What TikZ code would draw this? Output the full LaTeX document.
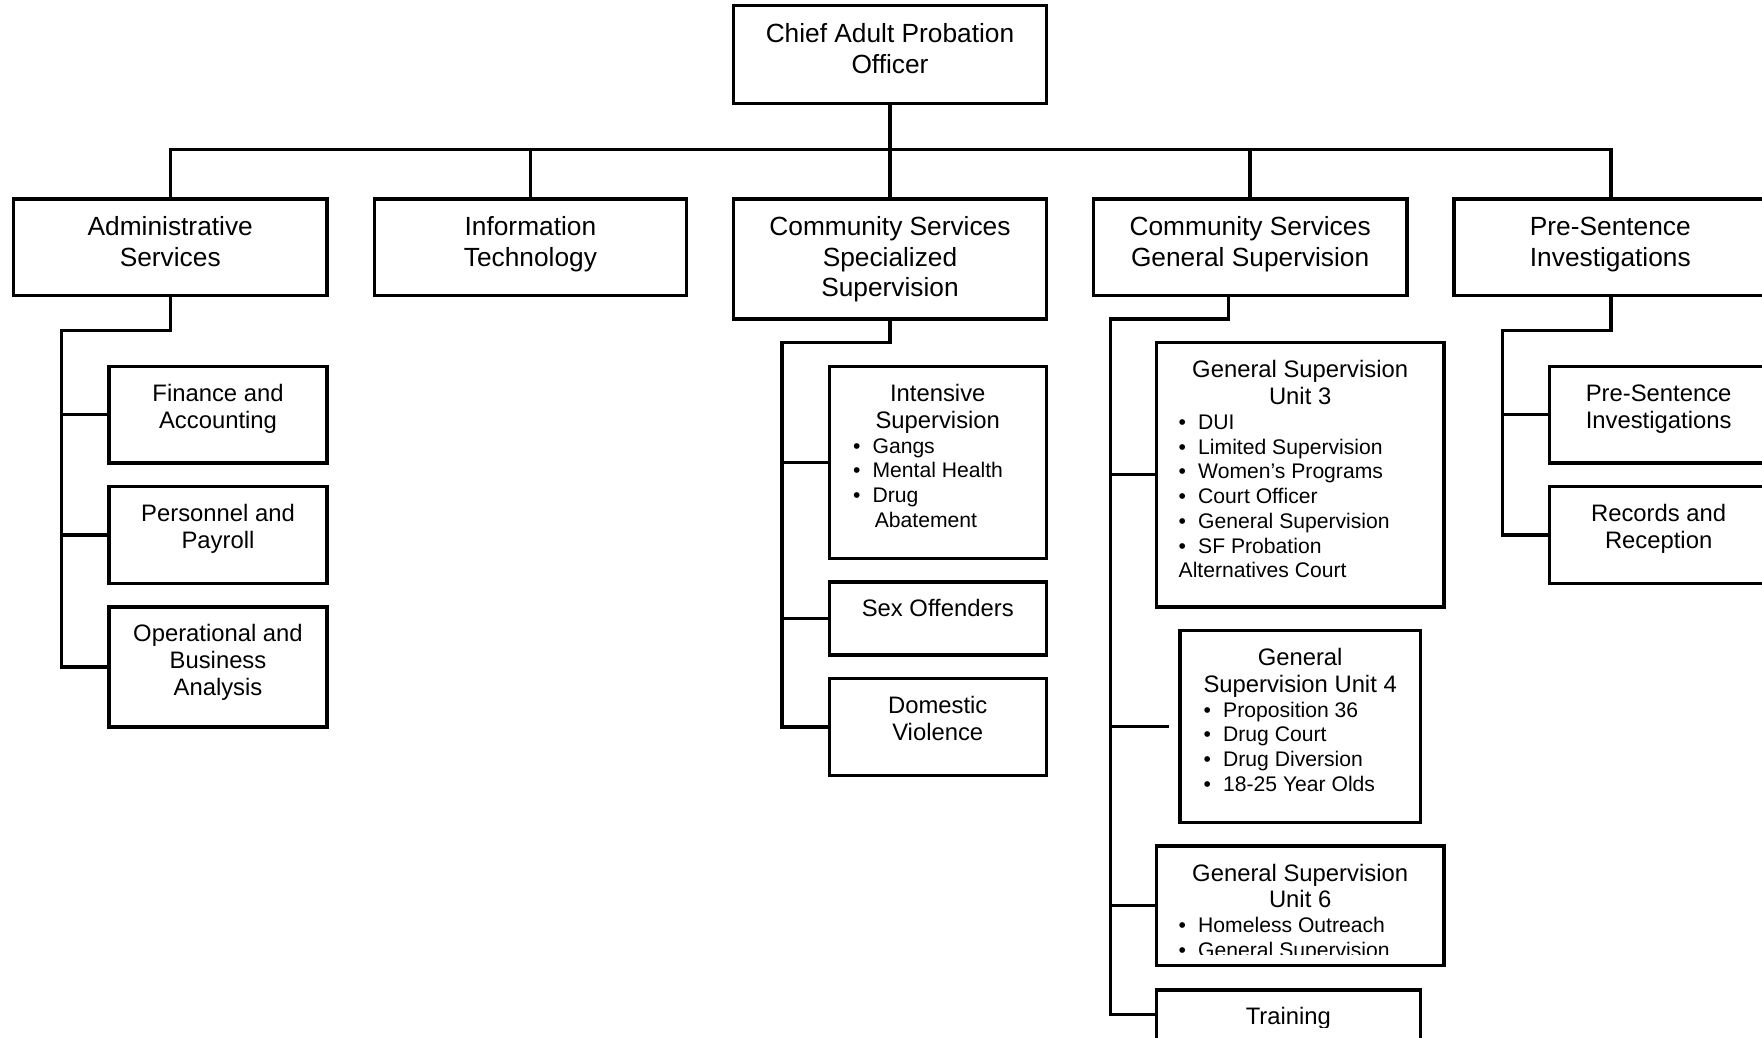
\documentclass[tikz,border=0pt]{standalone}
\usepackage{fontspec}
\setmainfont{Liberation Sans}
\usetikzlibrary{fit}
\newcommand{\bli}[1]{\makebox[8.7pt][l]{•}#1}
\newcommand{\ctab}[1]{\begin{tabular}[t]{@{}c@{}}#1\end{tabular}}
\newcommand{\ltab}[1]{\begin{tabular}[t]{@{}l@{}}#1\end{tabular}}
\begin{document}
\begin{tikzpicture}[x=0.5pt,y=-0.5pt,
 box/.style={draw, line width=1.5pt, inner sep=0pt},
 tA/.style={inner sep=0pt, anchor=base, font=\fontsize{11.7}{13.5}\selectfont},
 tB/.style={inner sep=0pt, anchor=base, font=\fontsize{10.6}{12}\selectfont},
 tL/.style={inner sep=0pt, anchor=base west, font=\fontsize{9.4}{11}\selectfont},
 ln/.style={line width=1.5pt}]
\clip (0,0) rectangle (1568,923);

% top
\node[box, fit={(653,5) (931,92)}] (chief) {};
\node[tA] (chieft) at (792,38) {\ctab{Chief Adult Probation\\Officer}};

% level 2
\node[box, fit={(12,177) (291,263)}] (adm) {};
\node[tA] (admt) at (151.5,210) {\ctab{Administrative\\Services}};
\node[box, fit={(333,177) (611,263)}] (it) {};
\node[tA] (itt) at (472,210) {\ctab{Information\\Technology}};
\node[box, fit={(653,177) (931,284)}] (csss) {};
\node[tA] (cssst) at (792,210) {\ctab{Community Services\\Specialized\\Supervision}};
\node[box, fit={(973,177) (1252,263)}] (csgs) {};
\node[tA] (csgst) at (1112.5,210) {\ctab{Community Services\\General Supervision}};
\node[box, fit={(1294,177) (1573,263)}] (psi) {};
\node[tA] (psit) at (1433,210) {\ctab{Pre-Sentence\\Investigations}};

\coordinate (bus) at (792,133);
\draw[ln] (chief.south) -- (bus);
\draw[ln] (adm.north) -- (adm.north |- bus) -- (psi.north |- bus) -- (psi.north);
\draw[ln] (it.north) -- (it.north |- bus);
\draw[ln] (csss.north) -- (csss.north |- bus);
\draw[ln] (csgs.north) -- (csgs.north |- bus);

% administrative children
\node[box, fit={(97,326) (291,412)}] (fin) {};
\node[tB] (fint) at (194,357) {\ctab{Finance and\\Accounting}};
\node[box, fit={(97,433) (291,519)}] (per) {};
\node[tB] (pert) at (194,464) {\ctab{Personnel and\\Payroll}};
\node[box, fit={(97,540) (291,647)}] (op) {};
\node[tB] (opt) at (194,571) {\ctab{Operational and\\Business\\Analysis}};
\coordinate (admk) at (55,294);
\draw[ln] (adm.south) |- (admk) |- (op.west);
\draw[ln] (admk |- fin.west) -- (fin.west);
\draw[ln] (admk |- per.west) -- (per.west);

% specialized supervision children
\node[box, fit={(738,326) (931,497)}] (ins) {};
\node[tB] (inst) at (834.5,357) {\ctab{Intensive\\Supervision}};
\node[tL] (insl) at (758.7,403.2) {\ltab{\bli{Gangs}\\\bli{Mental Health}\\\bli{Drug}\\\hspace{9.7pt}Abatement}};
\node[box, fit={(738,518) (931,583)}] (sex) {};
\node[tB] (sext) at (834.5,549) {\ctab{Sex Offenders}};
\node[box, fit={(738,604) (931,690)}] (dom) {};
\node[tB] (domt) at (834.5,635) {\ctab{Domestic\\Violence}};
\coordinate (cssk) at (696,305);
\draw[ln] (csss.south) |- (cssk) |- (dom.west);
\draw[ln] (cssk |- ins.west) -- (ins.west);
\draw[ln] (cssk |- sex.west) -- (sex.west);

% general supervision children
\node[box, fit={(1029,305) (1285,540)}] (gs3) {};
\node[tB] (gs3t) at (1157,336) {\ctab{General Supervision\\Unit 3}};
\node[tL] (gs3l) at (1048.5,382.2) {\ltab{\bli{DUI}\\\bli{Limited Supervision}\\\bli{Women’s Programs}\\\bli{Court Officer}\\\bli{General Supervision}\\\bli{SF Probation}\\Alternatives Court}};
\node[box, fit={(1050,561) (1264,732)}] (gs4) {};
\node[tB] (gs4t) at (1157,592) {\ctab{General\\Supervision Unit 4}};
\node[tL] (gs4l) at (1070.7,638.2) {\ltab{\bli{Proposition 36}\\\bli{Drug Court}\\\bli{Drug Diversion}\\\bli{18-25 Year Olds}}};
\node[box, fit={(1029,753) (1285,859)}] (gs6) {};
\begin{scope}
\clip (1029,753) rectangle (1285,849.5);
\node[tB] (gs6t) at (1157,784) {\ctab{General Supervision\\Unit 6}};
\node[tL] (gs6l) at (1048.5,830.2) {\ltab{\bli{Homeless Outreach}\\\bli{General Supervision}}};
\end{scope}
\node[box, fit={(1029,881) (1264,925)}] (tr) {};
\begin{scope}
\clip (1029,881) rectangle (1264,914.5);
\node[tB] (trt) at (1146.5,912) {\ctab{Training}};
\end{scope}
\coordinate (gsk) at (1093,284);
\coordinate (gsv) at (988,284);
\draw[ln] (csgs.south -| gsk) -- (gsk) -- (gsv) |- (tr.west);
\draw[ln] (gsv |- gs3.west) -- (gs3.west);
\draw[ln] (gsv |- gs4.west) -- ([xshift=-4pt]gs4.west);
\draw[ln] (gsv |- gs6.west) -- (gs6.west);

% pre-sentence children
\node[box, fit={(1379,326) (1573,412)}] (psi1) {};
\node[tB] (psi1t) at (1476,357) {\ctab{Pre-Sentence\\Investigations}};
\node[box, fit={(1379,433) (1573,519)}] (rec) {};
\node[tB] (rect) at (1476,464) {\ctab{Records and\\Reception}};
\coordinate (psik) at (1337,294);
\draw[ln] (psi.south) |- (psik) |- (rec.west);
\draw[ln] (psik |- psi1.west) -- (psi1.west);
\end{tikzpicture}
\end{document}
